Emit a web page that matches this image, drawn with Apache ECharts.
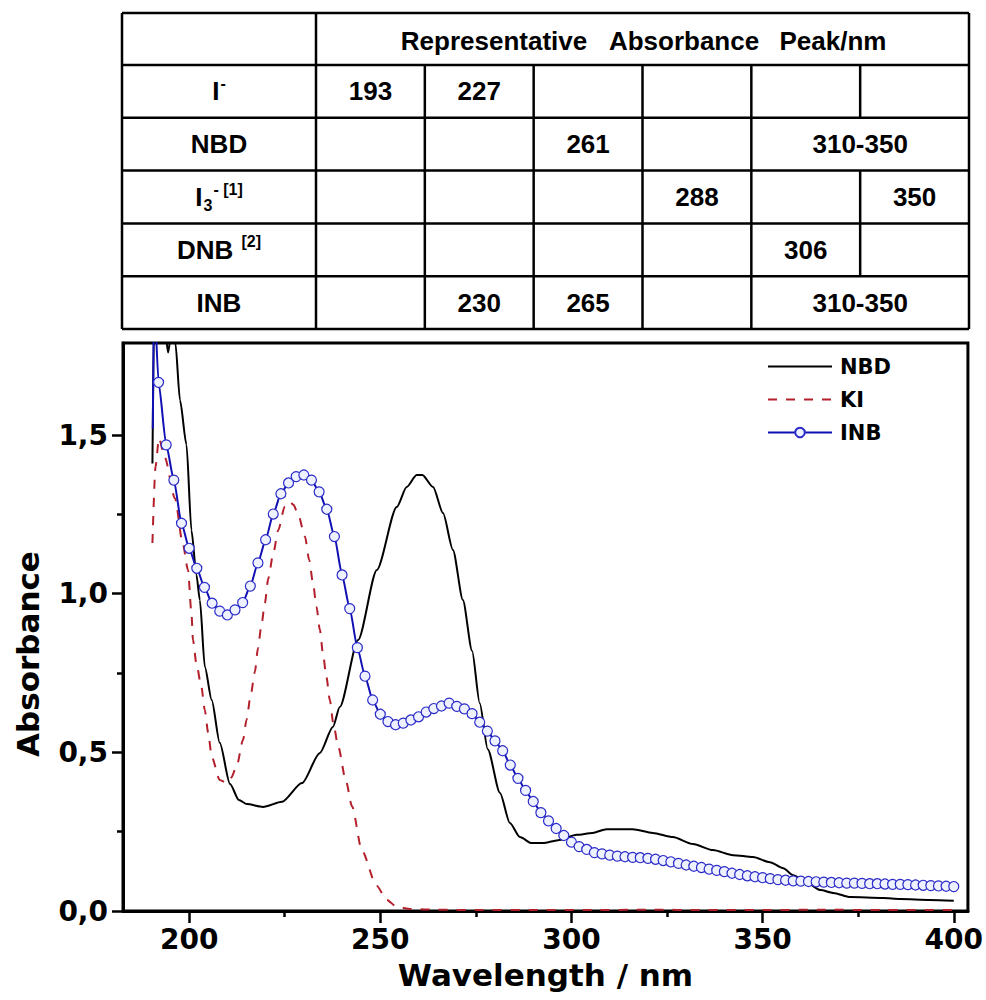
<!DOCTYPE html>
<html>
<head>
<meta charset="utf-8">
<script src="https://cdn.jsdelivr.net/npm/echarts@6/dist/echarts.min.js"></script>
<style>
html,body{margin:0;padding:0;background:#ffffff;}
#chart{width:986px;height:1000px;}
</style>
</head>
<body>
<div id="chart"></div>
<script>
// ---------------- data ----------------
const nbdData = [
  [190.4,1.41],[190.9,1.92],[193.7,1.83],[194.5,1.76],[195.4,1.83],[196.0,1.86],[196.4,1.79],
  [197.6,1.61],[199.3,1.47],[200.6,1.20],[201.9,1.06],[202.8,0.98],[204.1,0.77],[205.9,0.665],
  [208.0,0.53],[210.7,0.40],[213.0,0.35],[215.1,0.337],[219.3,0.328],[224.3,0.344],[229.5,0.403],
  [234.2,0.498],[237.6,0.58],[239.4,0.643],[244.2,0.854],[249.1,1.075],[254.3,1.273],[256.9,1.336],
  [259.5,1.374],[261.0,1.374],[263.8,1.336],[266.4,1.254],[269.0,1.138],[271.6,0.98],[274.0,0.82],
  [276.0,0.655],[278.1,0.51],[281.3,0.372],[283.9,0.277],[286.5,0.233],[289.6,0.214],[292.5,0.214],
  [296.9,0.224],[301.3,0.24],[305.5,0.246],[309.2,0.258],[316.0,0.258],[321.3,0.246],[326.5,0.233],
  [331.8,0.211],[337.0,0.192],[342.3,0.176],[347.5,0.17],[351.9,0.154],[355.4,0.135],[358.0,0.113],
  [361.7,0.088],[365.1,0.066],[368.5,0.057],[372.9,0.044],[381.5,0.041],[386.0,0.038],[393.8,0.035],
  [400.0,0.032]
];
const kiData = [
  [190.4,1.16],[191.2,1.40],[192.1,1.49],[193.6,1.43],[196.3,1.30],[198.3,1.16],[199.7,1.075],
  [200.6,0.94],[201.0,0.854],[201.9,0.78],[203.2,0.706],[204.1,0.633],[205.0,0.56],[205.9,0.486],
  [208.0,0.413],[209.8,0.404],[211.0,0.42],[212.4,0.455],[214.1,0.539],[215.0,0.602],[216.1,0.68],
  [217.2,0.754],[218.0,0.828],[218.9,0.90],[219.8,0.97],[220.7,1.048],[222.0,1.127],[223.3,1.20],
  [225.0,1.274],[226.3,1.29],[227.3,1.28],[228.5,1.25],[230.3,1.18],[231.4,1.106],[232.4,1.033],
  [233.3,0.959],[234.2,0.886],[235.0,0.812],[235.9,0.738],[236.8,0.665],[237.7,0.592],[239.0,0.518],
  [241.0,0.41],[242.6,0.33],[245.2,0.19],[249.0,0.08],[251.7,0.035],[254.3,0.013],[258.0,0.006],
  [265,0.004],[275,0.003],[290,0.003],[305,0.003],[320,0.004],[335,0.003],[350,0.003],[365,0.004],
  [380,0.003],[400,0.003]
];
// leading INB trace before the first marker (no markers)
const inbLead = [[190.5,1.52],[190.8,1.95]];
const inbData = [
  [192,1.666],[194,1.469],[196,1.358],[198,1.222],[200,1.143],[202,1.08],[204,1.02],[206,0.97],
  [208,0.945],[210,0.933],[212,0.949],[214,0.972],[216,1.024],[218,1.097],[220,1.17],[222,1.251],
  [224,1.315],[226,1.349],[228,1.369],[230,1.374],[232,1.358],[234,1.321],[236,1.266],[238,1.18],
  [240,1.059],[242,0.953],[244,0.83],[246,0.74],[248,0.665],[250,0.62],[252,0.597],[254,0.587],
  [256,0.592],[258,0.602],[260,0.612],[262,0.627],[264,0.638],[266,0.646],[268,0.655],[270,0.645],
  [272,0.637],[274,0.622],[276,0.595],[278,0.567],[280,0.536],[282,0.505],[284,0.46],[286,0.418],
  [288,0.38],[290,0.345],[292,0.31],[294,0.284],[296,0.26],[298,0.238],[300,0.217],[302,0.203],
  [304,0.194],[306,0.184],[308,0.18],[310,0.176],[312,0.173],[314,0.171],[316,0.169],[318,0.168],
  [320,0.166],[322,0.163],[324,0.159],[326,0.155],[328,0.15],[330,0.145],[332,0.141],[334,0.137],
  [336,0.132],[338,0.128],[340,0.124],[342,0.119],[344,0.115],[346,0.111],[348,0.108],[350,0.105],
  [352,0.102],[354,0.099],[356,0.097],[358,0.095],[360,0.094],[362,0.093],[364,0.092],[366,0.091],
  [368,0.09],[370,0.089],[372,0.088],[374,0.088],[376,0.087],[378,0.086],[380,0.086],[382,0.085],
  [384,0.084],[386,0.084],[388,0.083],[390,0.082],[392,0.081],[394,0.08],[396,0.079],[398,0.078],
  [400,0.077]
];
const seriesNames = ['NBD','KI','INB'];
const xTickValues = [200,250,300,350,400];
const xMinorValues = [225,275,325,375];
const yTickValues = [0,0.5,1.0,1.5];
const yMinorValues = [0.25,0.75,1.25];
const xTitle = 'Wavelength / nm';
const yTitle = 'Absorbance';

// table content
const tableHeaderWords = ['Representative','Absorbance','Peak/nm'];
const tableRowLabels = ['{m|I}{sup|-}','{m|NBD}','{m|I}{sub|3}{sup|- [1]}','{m|DNB }{sup|[2]}','{m|INB}'];
// [startColumn, columnSpan, text]
const tableCells = [
  [[0,1,'193'],[1,1,'227']],
  [[2,1,'261'],[4,2,'310-350']],
  [[3,1,'288'],[5,1,'350']],
  [[4,1,'306']],
  [[1,1,'230'],[2,1,'265'],[4,2,'310-350']]
];

// ---------------- layout ----------------
const T = {left:122, right:969, firstCol:316, top:13, headBottom:65, rowH:52.8, nCols:6, lw:2.5};
const colW = (T.right - T.firstCol) / T.nCols;
const tFamily = 'Liberation Sans, Arial, sans-serif';
const tableFont = {fontFamily:tFamily, fontWeight:'bold', fontSize:26, fill:'#000'};
const graphics = [];
function hline(y,x1,x2){graphics.push({type:'line',shape:{x1:x1,y1:y,x2:x2,y2:y},style:{stroke:'#000',lineWidth:T.lw}});}
function vline(x,y1,y2){graphics.push({type:'line',shape:{x1:x,y1:y1,x2:x,y2:y2},style:{stroke:'#000',lineWidth:T.lw}});}
function txt(x,y,text,extra){graphics.push({type:'text',x:x,y:y,style:Object.assign({text:text,align:'center',verticalAlign:'middle'},tableFont,extra||{})});}

const nRows = tableRowLabels.length;
const bottomY = T.headBottom + nRows*T.rowH;
hline(T.top, T.left, T.right);
hline(T.headBottom, T.left, T.right);
for (let r=1;r<=nRows;r++) hline(T.headBottom + r*T.rowH, T.left, T.right);
vline(T.left, T.top, bottomY);
vline(T.right, T.top, bottomY);
vline(T.firstCol, T.top, bottomY);
// header words
const headerCenters = [494, 684, 833];
tableHeaderWords.forEach((w,i)=>txt(headerCenters[i], (T.top+T.headBottom)/2 + 2, w));
for (let r=0;r<nRows;r++){
  const y1 = T.headBottom + r*T.rowH, y2 = y1 + T.rowH, yc = (y1+y2)/2;
  // inner column separators unless a spanning cell covers them
  for (let c=1;c<T.nCols;c++){
    const covered = tableCells[r].some(cell => cell[1]>1 && c>cell[0] && c<cell[0]+cell[1]);
    if (!covered) vline(T.firstCol + c*colW, y1, y2);
  }
  txt((T.left+T.firstCol)/2, yc, tableRowLabels[r], {rich:{
    m:{fontFamily:tFamily,fontWeight:'bold',fontSize:26,lineHeight:32,verticalAlign:'middle'},
    sup:{fontFamily:tFamily,fontWeight:'bold',fontSize:16,lineHeight:32,verticalAlign:'top',padding:[0,0,0,1]},
    sub:{fontFamily:tFamily,fontWeight:'bold',fontSize:16,lineHeight:32,verticalAlign:'bottom',padding:[8,0,0,1]}
  }});
  tableCells[r].forEach(cell=>{
    const cx = T.firstCol + (cell[0] + cell[1]/2)*colW;
    txt(cx, yc, cell[2]);
  });
}
// y axis title
graphics.push({type:'text', x:28, y:654, rotation:Math.PI/2,
  style:{text:yTitle, align:'center', verticalAlign:'middle', fontFamily:'DejaVu Sans', fontWeight:'bold', fontSize:31, fill:'#000'}});

// ---------------- chart ----------------
const chart = echarts.init(document.getElementById('chart'), null, {renderer:'svg'});
const labelFont = {fontFamily:'DejaVu Sans', fontWeight:'bold', fontSize:28, color:'#000'};
const gridBox = {left:123, right:18, top:343, bottom:89};
const xMin = 182.7, xMax = 403.7, yMin = 0, yMax = 1.79;

const option = {
  animation:false,
  backgroundColor:'#ffffff',
  grid:[
    Object.assign({show:true, borderColor:'#000', borderWidth:3, containLabel:false}, gridBox),
    Object.assign({show:false, containLabel:false}, gridBox)
  ],
  legend:{
    orient:'vertical', left:762, top:351, itemWidth:64, itemHeight:12, itemGap:12,
    data:[
      {name:seriesNames[0], itemStyle:{opacity:0}},
      {name:seriesNames[1], itemStyle:{opacity:0}},
      {name:seriesNames[2]}
    ],
    textStyle:Object.assign({}, labelFont, {fontSize:21, padding:[0,0,0,3]})
  },
  xAxis:[
    {type:'value', gridIndex:0, min:xMin, max:xMax,
     axisLine:{show:true, onZero:false, lineStyle:{color:'#000', width:3}},
     axisTick:{show:true, inside:false, length:12, customValues:xTickValues, lineStyle:{color:'#000', width:2.5}},
     axisLabel:Object.assign({customValues:xTickValues, margin:14}, labelFont),
     splitLine:{show:false},
     name:xTitle, nameLocation:'middle', nameGap:48,
     nameTextStyle:{fontFamily:'DejaVu Sans', fontWeight:'bold', fontSize:31, color:'#000'}},
    {type:'value', gridIndex:1, min:xMin, max:xMax,
     axisLine:{show:false},
     axisTick:{show:true, inside:false, length:6, customValues:xMinorValues, lineStyle:{color:'#000', width:2.5}},
     axisLabel:{show:false}, splitLine:{show:false}}
  ],
  yAxis:[
    {type:'value', gridIndex:0, min:yMin, max:yMax,
     axisLine:{show:true, onZero:false, lineStyle:{color:'#000', width:3}},
     axisTick:{show:true, inside:false, length:11, customValues:yTickValues, lineStyle:{color:'#000', width:2.5}},
     axisLabel:Object.assign({customValues:yTickValues, margin:15,
       formatter:v=>v.toFixed(1).replace('.', ',')}, labelFont),
     splitLine:{show:false}},
    {type:'value', gridIndex:1, min:yMin, max:yMax,
     axisLine:{show:false},
     axisTick:{show:true, inside:false, length:6, customValues:yMinorValues, lineStyle:{color:'#000', width:2.5}},
     axisLabel:{show:false}, splitLine:{show:false}}
  ],
  series:[
    {name:'NBD', type:'line', xAxisIndex:0, yAxisIndex:0, data:nbdData, symbol:'none',
     smooth:0.25, smoothMonotone:'x', clip:true,
     lineStyle:{color:'#000', width:2}, itemStyle:{color:'#000'}, z:3},
    {name:'KI', type:'line', xAxisIndex:0, yAxisIndex:0, data:kiData, symbol:'none',
     smooth:0.25, smoothMonotone:'x', clip:true,
     lineStyle:{color:'#b3202c', width:2, type:[9,9]}, itemStyle:{color:'#b3202c'}, z:2},
    {name:'INB', type:'line', xAxisIndex:0, yAxisIndex:0,
     data:inbLead.map(p=>({value:p, symbol:'none'})).concat(inbData.map(p=>({value:p}))),
     symbol:'circle', symbolSize:10, showAllSymbol:true, clip:true,
     smooth:0.2, smoothMonotone:'x',
     lineStyle:{color:'#1010b4', width:2},
     itemStyle:{color:'#eef1ff', borderColor:'#2b2bc8', borderWidth:1.2}, z:4}
  ],
  graphic:graphics
};
chart.setOption(option);
</script>
</body>
</html>
